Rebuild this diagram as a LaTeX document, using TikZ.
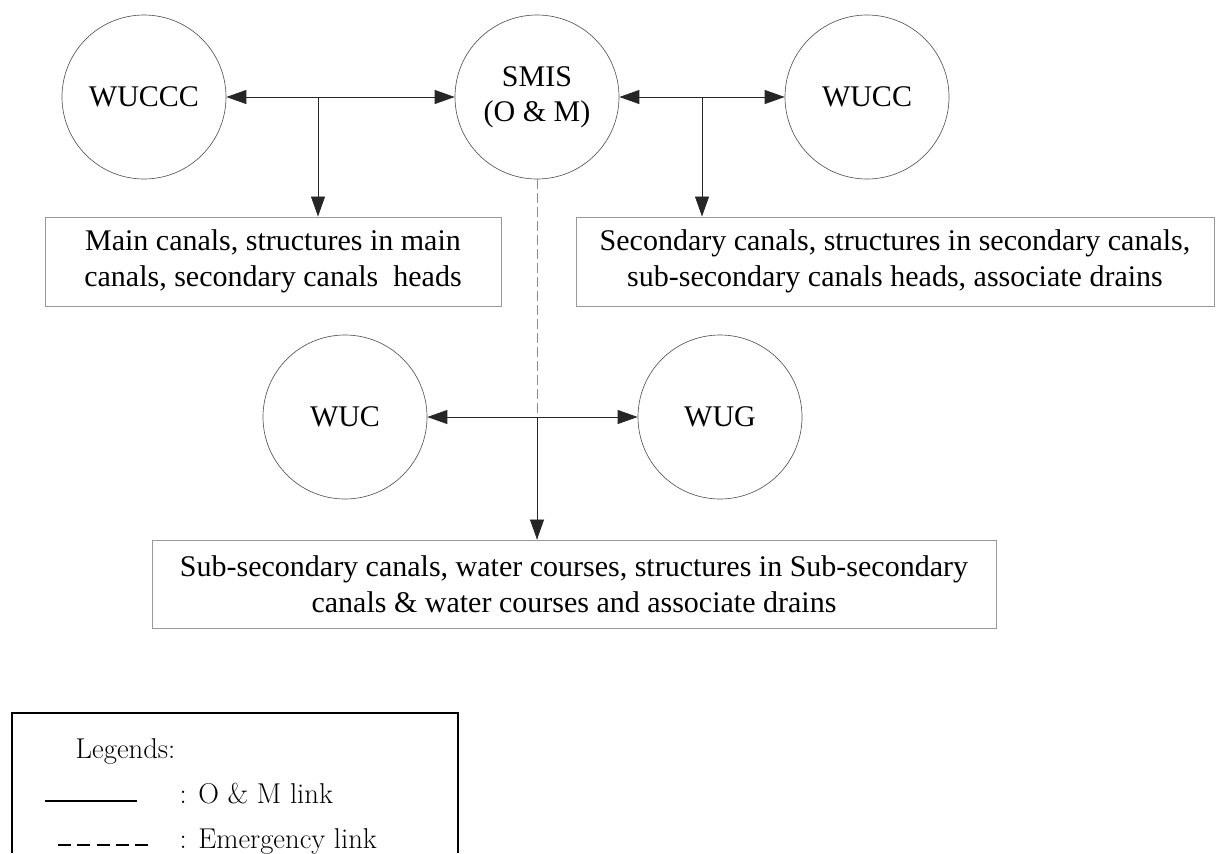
\documentclass[tikz,border=0pt]{standalone}
\usepackage{fontspec}
\newfontfamily\timesfont{Liberation Serif}
\usetikzlibrary{arrows.meta}
\begin{document}
\begin{tikzpicture}[x=0.75pt,y=-0.75pt,
  circ/.style={circle,draw=black!65,line width=0.5pt,minimum size=123pt,inner sep=0pt,
    font=\timesfont\fontsize{22.5}{26}\selectfont,align=center},
  txtbox/.style={draw=black!40,line width=0.7pt,inner sep=0pt,
    font=\timesfont\fontsize{22.5}{27}\selectfont,align=center},
  link/.style={draw=black!85,line width=0.6pt},
  tip/.style={-{Triangle[length=15pt,width=10.5pt]}},
  both/.style={{Triangle[length=15pt,width=10.5pt]}-{Triangle[length=15pt,width=10.5pt]}},
  emerg/.style={draw=black!45,line width=0.6pt,dash pattern=on 7.5pt off 3pt},
  legtext/.style={anchor=base west,font=\fontsize{21.5}{25}\selectfont},
  ]
\useasboundingbox (0,0) rectangle (1216,853);

% circles
\node[circ] (wuccc) at (144,97) {WUCCC};
\node[circ] (smis) at (537,97) {SMIS\\(O \& M)};
\node[circ] (wucc) at (867,97) {WUCC};
\node[circ] (wuc) at (345,417) {WUC};
\node[circ] (wug) at (720,417) {WUG};

% boxes
\node[txtbox,minimum width=342pt,minimum height=66.75pt] (box1) at (273,261.5)
  {Main canals, structures in main\\canals, secondary canals~~heads};
\node[txtbox,minimum width=478.5pt,minimum height=66.75pt] (box2) at (895,261.5)
  {Secondary canals, structures in secondary canals,\\sub-secondary canals heads, associate drains};
\node[txtbox,minimum width=633pt,minimum height=66pt] (box3) at (574,584)
  {Sub-secondary canals, water courses, structures in Sub-secondary\\canals \& water courses and associate drains};

% branch points
\coordinate (b1) at (318,97);
\coordinate (b2) at (702,97);
\coordinate (b3) at (537,417);

% emergency link
\draw[emerg] (smis.south) -- (box3.north -| smis.south);

% O&M links
\draw[link,both] (wuccc.east) -- (smis.west);
\draw[link,tip] (b1) -- (box1.north -| b1);
\draw[link,both] (smis.east) -- (wucc.west);
\draw[link,tip] (b2) -- (box2.north -| b2);
\draw[link,both] (wuc.east) -- (wug.west);
\draw[link,tip] (b3) -- (box3.north -| b3);

% legend
\draw[line width=1pt] (12,853) |- (458,713) -- (458,853);
\node[legtext] (leg) at (71,758) {Legends:};
\draw[line width=0.8pt] (45,801) -- (137,801);
\node[legtext] (legom) at (175,803) {: O \& M link};
\draw[line width=0.8pt,dash pattern=on 9.75pt off 4.7pt] (58,845) -- (148,845);
\node[legtext] (legem) at (175,848) {: Emergency link};
\end{tikzpicture}
\end{document}
